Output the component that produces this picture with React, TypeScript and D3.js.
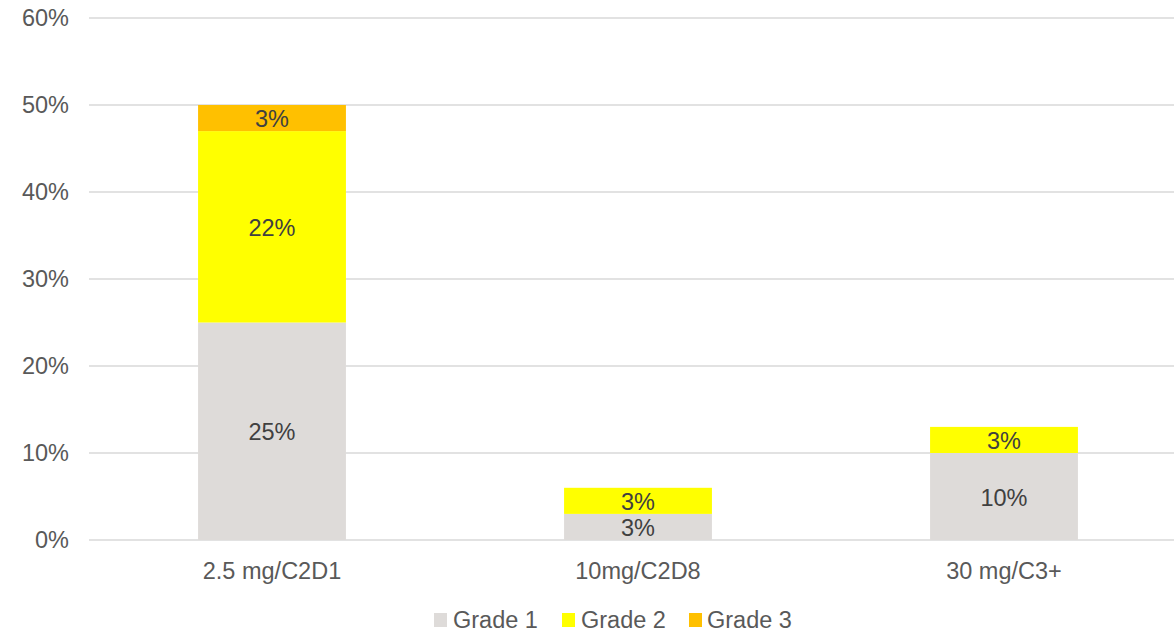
import React from "react";
import * as d3 from "d3";

const categories = ["2.5 mg/C2D1", "10mg/C2D8", "30 mg/C3+"];
const grade1 = [25, 3, 10];
const grade2 = [22, 3, 3];
const grade3 = [3, 0, 0];
const seriesNames = ["Grade 1", "Grade 2", "Grade 3"];
const seriesColors = ["#DEDBD9", "#FFFF00", "#FFC000"];
const yTicks = [0, 10, 20, 30, 40, 50, 60];

const W = 1174;
const H = 633;
const FONT = "'Liberation Sans', Arial, sans-serif";
const FS = 23.5;

export default function App() {
  const x = d3.scaleBand<string>().domain(categories).range([89, 1187]).padding(0);
  const y = d3.scaleLinear().domain([0, 60]).range([540, 18]);
  const barW = x.bandwidth() * 0.404;

  const rows = categories.map((c, i) => ({
    cat: c,
    g1: grade1[i],
    g2: grade2[i],
    g3: grade3[i],
  }));
  const stack = d3.stack<any>().keys(["g1", "g2", "g3"]);
  const layers = stack(rows);

  const legendItems = [
    { x: 434, tx: 453 },
    { x: 562, tx: 581 },
    { x: 689, tx: 707 },
  ];

  return (
    <svg width={W} height={H} style={{ position: "absolute", left: 0, top: 0, background: "#fff" }}>
      {yTicks.map((t) => (
        <g key={t}>
          <line x1={89} x2={W} y1={y(t)} y2={y(t)} stroke="#D9D9D9" strokeWidth={1.3} />
          <text x={69} y={y(t)} dy="0.35em" textAnchor="end" fontFamily={FONT} fontSize={FS} fill="#595959">
            {t}%
          </text>
        </g>
      ))}
      {layers.map((layer, li) =>
        layer.map((d, i) => {
          const v = d[1] - d[0];
          if (v <= 0) return null;
          const cx = (x(categories[i]) as number) + x.bandwidth() / 2;
          const y0 = y(d[0]);
          const y1 = y(d[1]);
          return (
            <g key={`${li}-${i}`}>
              <rect x={cx - barW / 2} y={y1} width={barW} height={y0 - y1} fill={seriesColors[li]} />
              <text
                x={cx}
                y={(y0 + y1) / 2 + 1}
                dy="0.35em"
                textAnchor="middle"
                fontFamily={FONT}
                fontSize={FS}
                fill="#404040"
              >
                {v}%
              </text>
            </g>
          );
        })
      )}
      {categories.map((c) => (
        <text
          key={c}
          x={(x(c) as number) + x.bandwidth() / 2}
          y={571}
          dy="0.35em"
          textAnchor="middle"
          fontFamily={FONT}
          fontSize={FS}
          fill="#595959"
        >
          {c}
        </text>
      ))}
      {seriesNames.map((s, i) => (
        <g key={s}>
          <rect x={legendItems[i].x} y={613} width={13} height={14} fill={seriesColors[i]} />
          <text x={legendItems[i].tx} y={620} dy="0.35em" fontFamily={FONT} fontSize={FS} fill="#595959">
            {s}
          </text>
        </g>
      ))}
    </svg>
  );
}
